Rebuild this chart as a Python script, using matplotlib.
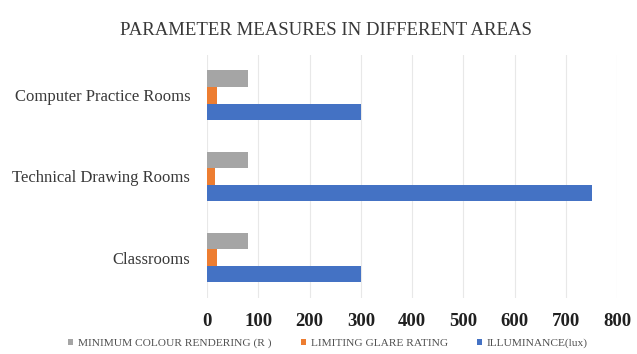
import numpy as np
import matplotlib
matplotlib.use("Agg")
import matplotlib.pyplot as plt

plt.rcParams['font.family'] = ['Liberation Serif', 'DejaVu Serif']

# data
areas = ['Classrooms', 'Technical Drawing Rooms', 'Computer Practice Rooms']
illuminance = [300, 750, 300]
glare_rating = [19, 16, 19]
colour_rendering = [80, 80, 80]

series = [
    ('ILLUMINANCE(lux)', illuminance, '#4472C4'),
    ('LIMITING GLARE RATING', glare_rating, '#ED7D31'),
    ('MINIMUM COLOUR RENDERING (R )', colour_rendering, '#A5A5A5'),
]

fig = plt.figure(figsize=(6.37, 3.54), dpi=100)
ax = fig.add_axes([0.325, 0.158, 0.644, 0.687])

y = np.arange(len(areas))
h = 0.205
for i, (name, vals, col) in enumerate(series):
    ax.barh(y + (i - 1) * h, vals, height=h, color=col, label=name, zorder=3)

ax.set_xlim(0, 800)
ax.set_ylim(-0.5, 2.5)
ax.set_xticks(np.arange(0, 801, 100))
ax.set_yticks(y)
ax.set_yticklabels(areas, fontsize=12, color='#3a3a3a')
ax.tick_params(axis='x', labelsize=13.5, colors='#202020', length=0, pad=11)
ax.tick_params(axis='y', length=0, pad=12)
for lab in ax.get_xticklabels():
    lab.set_fontweight('bold')
ax.grid(axis='x', color='#E8E8E8', linewidth=0.8, zorder=0)
for s in ax.spines.values():
    s.set_visible(False)

fig.text(0.511, 0.915, 'PARAMETER MEASURES IN DIFFERENT AREAS',
         ha='center', va='center', fontsize=13.5, color='#383838')

handles, labels = ax.get_legend_handles_labels()
fig.legend(handles[::-1], labels[::-1], loc='center', bbox_to_anchor=(0.515, 0.03),
           ncol=3, frameon=False, fontsize=8.2, handlelength=0.45, handleheight=0.45,
           columnspacing=2.6, handletextpad=0.4, labelcolor='#505050')

fig.savefig('out.png', dpi=100)
